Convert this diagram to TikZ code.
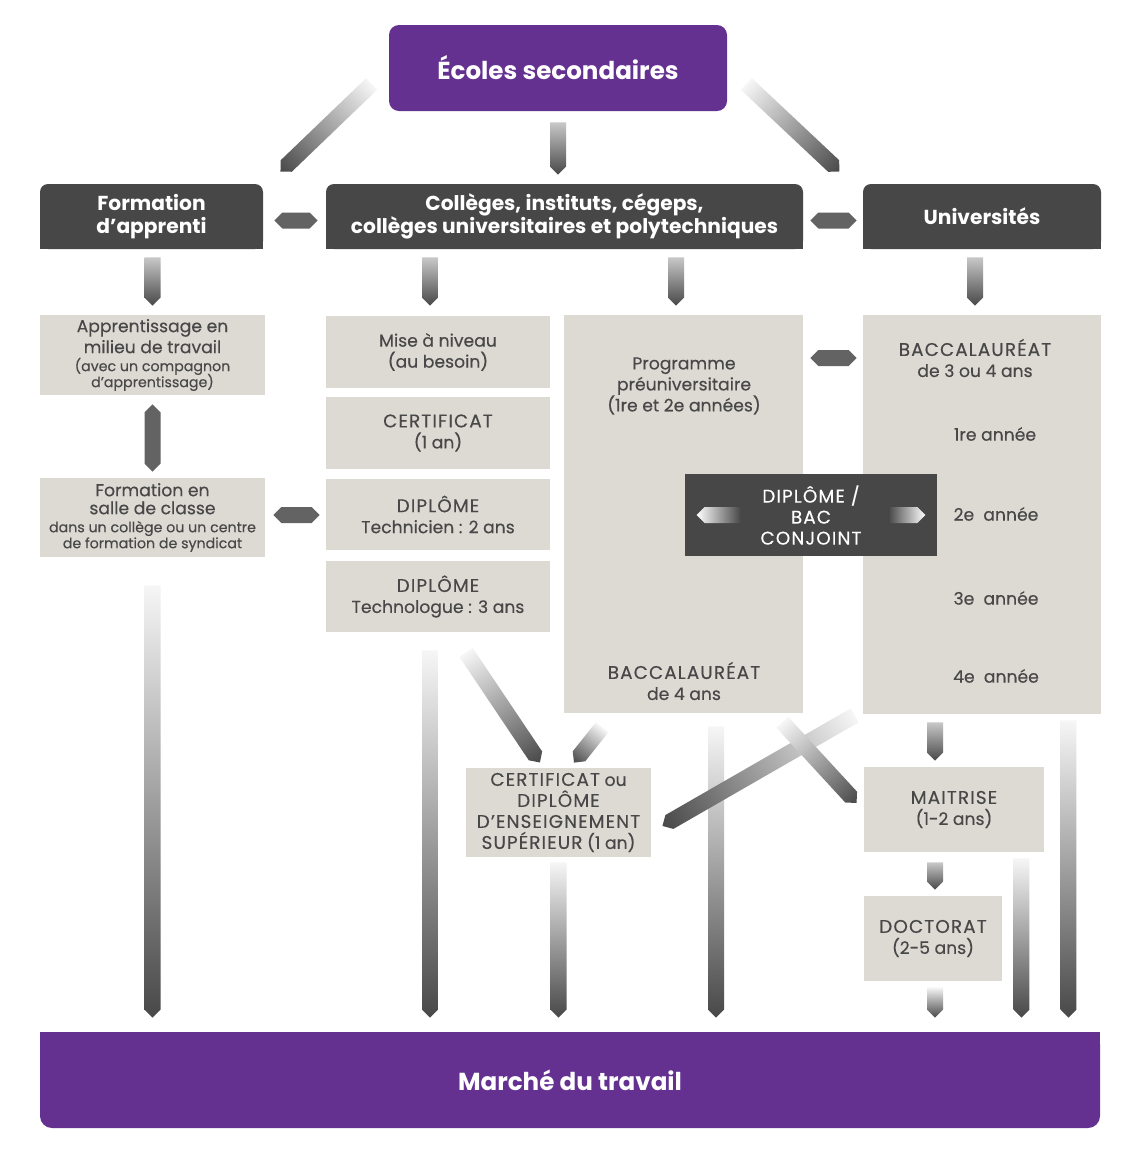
\documentclass[tikz,border=0pt]{standalone}
\usepackage{fontspec}
\setmainfont{Poppins}[UprightFeatures={FakeBold=0.25}]
\usetikzlibrary{calc}
\definecolor{purp}{RGB}{100,49,145}
\definecolor{hdr}{RGB}{71,71,71}
\definecolor{lbox}{RGB}{221,217,211}
\definecolor{txt}{RGB}{72,72,72}
\definecolor{ardark}{RGB}{72,72,72}
\definecolor{armid}{RGB}{200,200,200}
\definecolor{arlight}{RGB}{246,246,246}
\newcommand\sm{\fontsize{7.1}{8}\selectfont}
\newcommand\cp{\fontsize{9.2}{10.5}\selectfont\addfontfeatures{LetterSpace=6}}
\newcommand\bx[7]{\node[#2, minimum width={(#5-#3)*0.5pt}, minimum height={(#6-#4)*0.5pt}] (#1) at ({(#3+#5)/2},{(#4+#6)/2}) {#7};}
\newcommand\gasingle[2]{\shade[#2] (0pt,-#1) -- ({\GAlen-#1},-#1) -- ({\GAlen},0pt) -- ({\GAlen-#1},#1) -- (0pt,#1) -- cycle;}
\newcommand\gadouble[2]{\shade[#2] (0pt,0pt) -- (#1,-#1) -- ({\GAlen-#1},-#1) -- ({\GAlen},0pt) -- ({\GAlen-#1},#1) -- (#1,#1) -- cycle;}
\newcommand\garrow[5][4pt]{%
  \path let \p1=#3, \p2=#4, \n1={atan2(\y2-\y1,\x2-\x1)}, \n2={veclen(\x2-\x1,\y2-\y1)} in \pgfextra{\xdef\GAang{\n1}\xdef\GAlen{\n2}\xdef\GAx{\x1}\xdef\GAy{\y1}};
  \begin{scope}[transform canvas={shift={(\GAx,\GAy)},rotate=\GAang}]
    \csname ga#2\endcsname{#1}{#5}
  \end{scope}}
\tikzset{
  pbox/.style={fill=purp, text=white, align=center, inner sep=0pt, font=\bfseries\fontsize{12.3}{14}\selectfont},
  hbox/.style={fill=hdr, rounded corners=4pt, text=white, align=center, inner sep=0pt, font=\bfseries\fontsize{10.1}{11.5}\selectfont},
  lb/.style={fill=lbox, text=txt, align=center, inner sep=0pt, font=\fontsize{8.6}{10.5}\selectfont},
  lt/.style={text=txt, align=center, inner sep=0pt, font=\fontsize{8.6}{10.5}\selectfont},
  cb/.style={fill=hdr, text=white, align=center, inner sep=0pt, font=\cp},
  sg/.style={left color=armid, right color=ardark},
  lg/.style={left color=arlight, right color=ardark},
  dbl/.style={left color=ardark!85, middle color=gray!45, right color=ardark!85},
  cj/.style={left color=hdr, right color=white}
}
\begin{document}
\begin{tikzpicture}[x=0.5pt,y=-0.5pt]
\useasboundingbox (0,0) rectangle (1134,1158);
\fill[white] (0,0) rectangle (1134,1158);

% top
\bx{ecoles}{pbox, rounded corners=5pt}{389}{25}{727}{111}{Écoles secondaires}

% headers
\fill[hdr] (40,217) rectangle (263,249);
\bx{fa}{hbox}{40}{184}{263}{249}{Formation\\d’apprenti}
\fill[hdr] (326,217) rectangle (803,249);
\bx{col}{hbox}{326}{184}{803}{249}{Collèges, instituts, cégeps,\\collèges universitaires et polytechniques}
\fill[hdr] (863,217) rectangle (1101,249);
\bx{uni}{hbox}{863}{184}{1101}{249}{Universités}

% apprentice column
\bx{app}{lb}{40}{315}{265}{395}{Apprentissage en\\milieu de travail\\[-1.5pt]{\sm (avec un compagnon}\\[-2.5pt]{\sm d’apprentissage)}}
\bx{fsc}{lb}{40}{478}{265}{557}{Formation en\\[-1.5pt]salle de classe\\[-1.5pt]{\sm dans un collège ou un centre}\\[-2.5pt]{\sm de formation de syndicat}}

% college column
\bx{mise}{lb}{326}{316}{550}{388}{Mise à niveau\\(au besoin)}
\bx{cert}{lb}{326}{397}{550}{469}{{\cp CERTIFICAT}\\(1 an)}
\bx{tech}{lb}{326}{479}{550}{550}{{\cp DIPLÔME}\\Technicien : 2 ans}
\bx{techno}{lb}{326}{561}{550}{632}{{\cp DIPLÔME}\\Technologue : 3 ans}

% big boxes
\bx{prog}{lb}{564}{315}{803}{713}{}
\node[lt] (progt) at (684,386) {Programme\\préuniversitaire\\(1re et 2e années)};
\node[lt] (progb) at (684,681) {{\cp BACCALAURÉAT}\\de 4 ans};
\bx{bac}{lb}{863}{315}{1101}{714}{}
\node[lt] (bact) at (975,358) {{\cp BACCALAURÉAT}\\de 3 ou 4 ans};
\node[lt] (y1) at (995,434) {1re année};
\node[lt] (y2) at (996,514) {2e\ \ année};
\node[lt] (y3) at (996,598) {3e\ \ année};
\node[lt] (y4) at (996,676) {4e\ \ année};

% joint box
\bx{conj}{cb}{685}{474}{937}{556}{DIPLÔME /\\BAC\\CONJOINT}

% lower boxes
\bx{cdes}{lb}{466}{768}{651}{857}{{\cp CERTIFICAT} ou\\{\cp DIPLÔME}\\{\cp D’ENSEIGNEMENT}\\{\cp SUPÉRIEUR} (1 an)}
\bx{mait}{lb}{864}{767}{1044}{852}{{\cp MAITRISE}\\(1-2 ans)}
\bx{doc}{lb}{864}{896}{1002}{981}{{\cp DOCTORAT}\\(2-5 ans)}

% bottom
\fill[purp] (40,1032) rectangle (1100,1080);
\bx{marche}{pbox, rounded corners=6pt}{40}{1032}{1100}{1128}{Marché du travail}

% ---- arrows ----
\garrow{single}{($(ecoles.west)+(-17,16)$)}{($(fa.north east)+(17,-12)$)}{lg}
\garrow{single}{($(ecoles.east)+(19,16)$)}{($(uni.north west)+(-23,-12)$)}{lg}
\garrow{single}{($(ecoles.south)+(0,11)$)}{($(ecoles.south |- col.north)+(0,-9)$)}{sg}
\garrow{double}{($(fa.east)+(11,4)$)}{($(col.west)+(-8,4)$)}{dbl}
\garrow{double}{($(col.east)+(7,4)$)}{($(uni.west)+(-6,4)$)}{dbl}
\garrow{single}{($(app.north |- fa.south)+(0,8)$)}{($(app.north)+(0,-9)$)}{sg}
\garrow{single}{($(mise.north |- col.south)+(-8,8)$)}{($(mise.north)+(-8,-10)$)}{sg}
\garrow{single}{($(prog.north |- col.south)+(-7.5,8)$)}{($(prog.north)+(-7.5,-9)$)}{sg}
\garrow{single}{($(uni.south)+(-7,8)$)}{($(bac.north)+(-7,-9)$)}{sg}
\garrow{double}{($(app.south)+(0,9)$)}{($(fsc.north)+(0,-6)$)}{dbl}
\garrow{double}{($(fsc.east)+(8,-2.5)$)}{($(tech.west)+(-6,0.5)$)}{dbl}
\garrow{double}{($(prog.east |- bact)+(7,0)$)}{($(bac.west |- bact)+(-6,0)$)}{dbl}
\garrow{single}{($(conj.west)+(56,0)$)}{($(conj.west)+(12,0)$)}{cj}
\garrow{single}{($(conj.east)+(-49,0)$)}{($(conj.east)+(-12,0)$)}{cj}
% long verticals to the labour market
\garrow{single}{($(fsc.south)+(0,28)$)}{($(fsc.south |- marche.north)+(0,-14)$)}{lg}
\garrow{single}{($(techno.south)+(-8,18)$)}{($(techno.south |- marche.north)+(-8,-14)$)}{lg}
\garrow{single}{($(cdes.south)+(0,5)$)}{($(cdes.south |- marche.north)+(0,-14)$)}{lg}
\garrow{single}{($(prog.south)+(32.5,13)$)}{($(prog.south |- marche.north)+(32.5,-14)$)}{lg}
\garrow{single}{($(doc.south)+(2,6)$)}{($(doc.south |- marche.north)+(2,-14)$)}{lg}
\garrow{single}{($(mait.south east)+(-23,6)$)}{($(mait.south east |- marche.north)+(-23,-14)$)}{lg}
\garrow{single}{($(bac.south east)+(-33,6)$)}{($(bac.south east |- marche.north)+(-33,-14)$)}{lg}
% diagonals
\garrow{single}{($(techno.south)+(28,20)$)}{($(cdes.north)+(-18.5,-5)$)}{lg}
\garrow{single}{($(prog.south)+(-81.5,14)$)}{($(cdes.north)+(15.5,-5)$)}{lg}
\garrow{single}{($(bac.south west)+(-8,1)$)}{($(cdes.east)+(11,13.5)$)}{lg}
\garrow{single}{($(prog.south east)+(-21,9)$)}{($(mait.west)+(-7,-6.5)$)}{lg}
% master / doctorate
\garrow{single}{($(mait.north |- bac.south)+(-19,8)$)}{($(mait.north)+(-19,-6)$)}{sg}
\garrow{single}{($(mait.south)+(-19,10)$)}{($(doc.north)+(2,-6)$)}{sg}
\end{tikzpicture}
\end{document}
